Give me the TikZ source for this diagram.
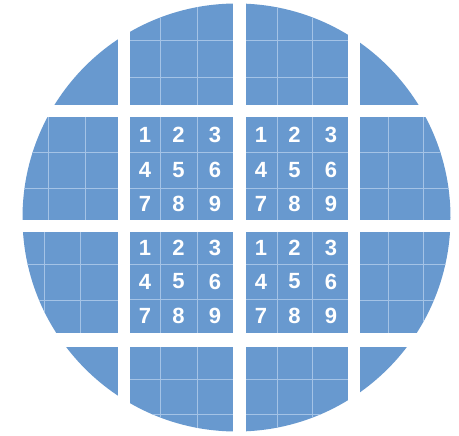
\documentclass[tikz,border=0pt]{standalone}
\usepackage{fontspec}
\setmainfont{Liberation Sans}
\definecolor{tileblue}{HTML}{6899CF}
\definecolor{gridline}{HTML}{A4C3E6}
\tikzset{
  tile/.style={fill=tileblue, draw=none},
  gridln/.style={draw=gridline, line width=0.9pt},
  digit/.style={text=white, font=\fontsize{22}{22}\selectfont\bfseries, inner sep=0pt, anchor=center}
}
\begin{document}
\begin{tikzpicture}[x=1pt,y=-1pt]
\useasboundingbox (0,0) rectangle (459,436);
\fill[white] (0,0) rectangle (459,436);
\begin{scope}
\clip (236.5,217.5) circle (214);
% tiles
\foreach \xa/\xb in {0/118,130/233,246/348,360/459}{
  \foreach \ya/\yb in {0/105,117/220,232/333,347/436}{
    \fill[tile] (\xa,\ya) rectangle (\xb,\yb);
  }
}
% grid lines, top row
\foreach \x in {160,197}{\draw[gridln] (\x,0) -- (\x,105);}
\foreach \x in {277,312}{\draw[gridln] (\x,0) -- (\x,105);}
\foreach \y in {40,77}{\draw[gridln] (130,\y) -- (233,\y); \draw[gridln] (246,\y) -- (348,\y);}
% bottom row
\foreach \x in {160,197,277,312}{\draw[gridln] (\x,347) -- (\x,436);}
\foreach \y in {379,414}{\draw[gridln] (130,\y) -- (233,\y); \draw[gridln] (246,\y) -- (348,\y);}
% left column
\foreach \x in {48,85}{\draw[gridln] (\x,117) -- (\x,220);}
\foreach \x in {44,80}{\draw[gridln] (\x,232) -- (\x,333);}
\foreach \y in {152,188}{\draw[gridln] (0,\y) -- (118,\y);}
\foreach \y in {264,300}{\draw[gridln] (0,\y) -- (118,\y);}
% right column
\foreach \x in {388,423}{\draw[gridln] (\x,117) -- (\x,220); \draw[gridln] (\x,232) -- (\x,333);}
\foreach \y in {152,188}{\draw[gridln] (360,\y) -- (459,\y);}
\foreach \y in {264,300}{\draw[gridln] (360,\y) -- (459,\y);}
% centre blocks
\foreach \x in {160,197}{\draw[gridln] (\x,117) -- (\x,220); \draw[gridln] (\x,232) -- (\x,333);}
\foreach \x in {277,312}{\draw[gridln] (\x,117) -- (\x,220); \draw[gridln] (\x,232) -- (\x,333);}
\foreach \y in {152,188}{\draw[gridln] (130,\y) -- (233,\y); \draw[gridln] (246,\y) -- (348,\y);}
\foreach \y in {264,299}{\draw[gridln] (130,\y) -- (233,\y); \draw[gridln] (246,\y) -- (348,\y);}
\end{scope}
% digits
\foreach \bx/\b/\ya/\yb/\yc in {0/a/134.5/170/204,116/b/134.5/170/204,0/c/248/281.5/316,116/d/248/281.5/316}{
  \foreach \cx/\cy/\d in {145/\ya/1,178.5/\ya/2,215/\ya/3,145/\yb/4,178.5/\yb/5,215/\yb/6,145/\yc/7,178.5/\yc/8,215/\yc/9}{
    \node[digit] (\b\d) at (\cx+\bx,\cy) {\d};
  }
}
\end{tikzpicture}
\end{document}
